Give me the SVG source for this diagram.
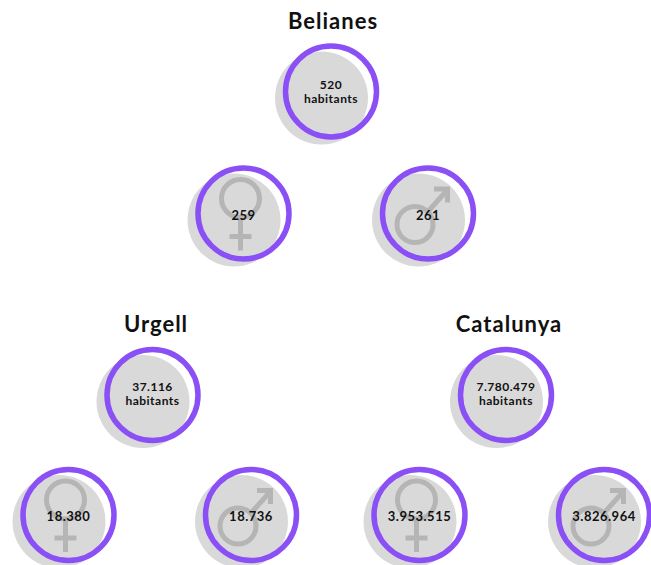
<svg xmlns="http://www.w3.org/2000/svg" xmlns:xlink="http://www.w3.org/1999/xlink" width="651" height="565" viewBox="0 0 651 565">
<style>
.bg{fill:#d9d9d9}
.ring{fill:none;stroke:#8a4ff5;stroke-width:5.5}
.sym{fill:none;stroke:#b5b5b5;stroke-width:5}
.title{font-family:Lato,"Liberation Sans",sans-serif;font-weight:700;font-size:22px;letter-spacing:1px;fill:#111;text-anchor:middle}
.num{font-family:Lato,"Liberation Sans",sans-serif;font-weight:700;font-size:12px;letter-spacing:0.5px;fill:#111;text-anchor:middle}
.big{font-size:13px}
</style>
<defs>
<g id="base">
<circle class="bg" cx="-9.5" cy="6.5" r="46.5"/>
</g>
<g id="female">
<circle class="sym" cx="-3" cy="-15" r="19"/>
<line class="sym" x1="-3" y1="4" x2="-3" y2="37"/>
<line class="sym" x1="-14" y1="23" x2="8" y2="23"/>
</g>
<g id="male">
<circle class="sym" cx="-13" cy="11" r="18"/>
<line class="sym" x1="0" y1="-2" x2="18" y2="-22"/>
<polyline class="sym" points="6,-24.5 19.5,-24.5 19.5,-11" stroke-linejoin="miter"/>
</g>
</defs>
<g id="connectors"></g>

<text class="title" x="333" y="29">Belianes</text>
<text class="title" x="156" y="332">Urgell</text>
<text class="title" x="509" y="332">Catalunya</text>

<g id="belianes" transform="translate(331,91.5)">
<use xlink:href="#base"/>
<circle class="ring" r="45.5"/>
<text class="num" y="-3">520</text>
<text class="num" y="11">habitants</text>
</g>
<g id="belianes-f" transform="translate(243.5,213.5)">
<use xlink:href="#base"/>
<use xlink:href="#female"/>
<circle class="ring" r="45.5"/>
<text class="num big" y="6">259</text>
</g>
<g id="belianes-m" transform="translate(428,213.5)">
<use xlink:href="#base"/>
<use xlink:href="#male"/>
<circle class="ring" r="45.5"/>
<text class="num big" y="6">261</text>
</g>

<g id="urgell" transform="translate(152.5,395)">
<use xlink:href="#base"/>
<circle class="ring" r="45.5"/>
<text class="num" y="-4">37.116</text>
<text class="num" y="10">habitants</text>
</g>
<g id="urgell-f" transform="translate(68.5,515)">
<use xlink:href="#base"/>
<use xlink:href="#female"/>
<circle class="ring" r="45.5"/>
<text class="num big" y="6">18.380</text>
</g>
<g id="urgell-m" transform="translate(251,515)">
<use xlink:href="#base"/>
<use xlink:href="#male"/>
<circle class="ring" r="45.5"/>
<text class="num big" y="6">18.736</text>
</g>

<g id="catalunya" transform="translate(506,395)">
<use xlink:href="#base"/>
<circle class="ring" r="45.5"/>
<text class="num" y="-4">7.780.479</text>
<text class="num" y="10">habitants</text>
</g>
<g id="catalunya-f" transform="translate(419.5,515)">
<use xlink:href="#base"/>
<use xlink:href="#female"/>
<circle class="ring" r="45.5"/>
<text class="num big" y="6">3.953.515</text>
</g>
<g id="catalunya-m" transform="translate(604,515)">
<use xlink:href="#base"/>
<use xlink:href="#male"/>
<circle class="ring" r="45.5"/>
<text class="num big" y="6">3.826.964</text>
</g>
</svg>
